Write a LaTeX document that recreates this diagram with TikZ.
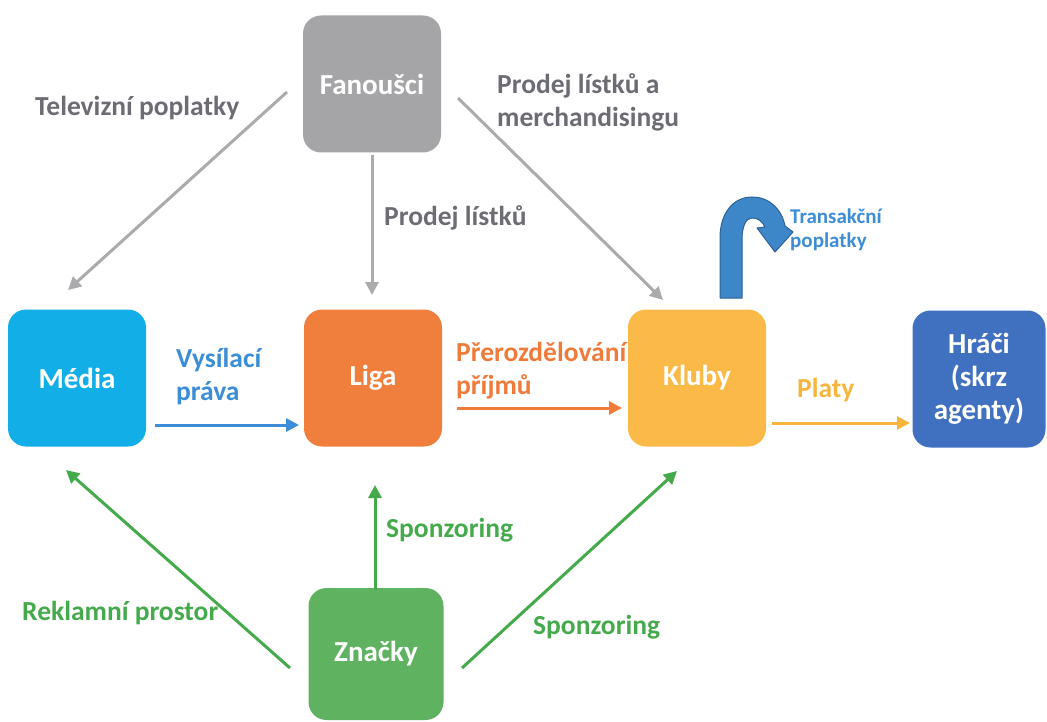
\documentclass[tikz,border=0pt]{standalone}
\usepackage{fontspec}
\setmainfont{Carlito}
\usetikzlibrary{arrows.meta}
\definecolor{cFan}{HTML}{A5A5A8}
\definecolor{cMed}{HTML}{12AEE8}
\definecolor{cLig}{HTML}{F07F3E}
\definecolor{cKlu}{HTML}{FBB947}
\definecolor{cHra}{HTML}{4070C0}
\definecolor{cZna}{HTML}{5FB360}
\definecolor{cGrayA}{HTML}{ABABAE}
\definecolor{cGrayT}{HTML}{6C6C74}
\definecolor{cBlueT}{HTML}{3A8DD6}
\definecolor{cOrT}{HTML}{EF7B3A}
\definecolor{cYeT}{HTML}{F8B53E}
\definecolor{cGrT}{HTML}{45AA4C}
\definecolor{cCurve}{HTML}{3D86C8}
\definecolor{cCurveD}{HTML}{2D6298}
\begin{document}
\begin{tikzpicture}[x=1pt,y=-1pt,
  box/.style={rounded corners=18pt, minimum width=138pt, minimum height=137pt,
    text=white, font=\bfseries\fontsize{29}{33}\selectfont, align=center, inner sep=0pt},
  conn/.style={line width=3pt, -{Triangle[length=13pt,width=13pt]}},
  lab/.style={font=\bfseries\fontsize{27.5}{33}\selectfont, align=left, inner sep=0pt},
]
\useasboundingbox (0,0) rectangle (1047,722);
% boxes
\node[box, fill=cFan] (fan) at (372,84) {Fanoušci};
\node[box, fill=cMed] (med) at (77,378) {Média};
\node[box, fill=cLig] (lig) at (373,378) {Liga};
\node[box, fill=cKlu] (klu) at (697,378) {Kluby};
\node[box, fill=cHra, minimum width=133pt] (hra) at (979,379) {Hráči\\(skrz\\agenty)};
\node[box, fill=cZna, minimum width=135pt, minimum height=132pt] (zna) at (376,654) {Značky};
% connector end coordinates
\coordinate (fm1) at (287,92);  \coordinate (fm2) at (68,290);
\coordinate (fl1) at (372,155); \coordinate (fl2) at (372,295);
\coordinate (fk1) at (458,98);  \coordinate (fk2) at (663,300);
\coordinate (ml1) at (155,425); \coordinate (ml2) at (299,425);
\coordinate (lk1) at (457,408); \coordinate (lk2) at (622,408);
\coordinate (kh1) at (772,423); \coordinate (kh2) at (910,423);
\coordinate (zm1) at (290,668); \coordinate (zm2) at (66,470);
\coordinate (zl1) at (375,590); \coordinate (zl2) at (375,485);
\coordinate (zk1) at (462,668); \coordinate (zk2) at (677,471);
% connectors
\draw[conn, cGrayA] (fm1) -- (fm2);
\draw[conn, cGrayA] (fl1) -- (fl2);
\draw[conn, cGrayA] (fk1) -- (fk2);
\draw[conn, cBlueT] (ml1) -- (ml2);
\draw[conn, cOrT] (lk1) -- (lk2);
\draw[conn, cYeT] (kh1) -- (kh2);
\draw[conn, cGrT] (zm1) -- (zm2);
\draw[conn, cGrT] (zl1) -- (zl2);
\draw[conn, cGrT] (zk1) -- (zk2);
% labels
\node[lab, text=cGrayT, anchor=west] (tTV) at (35,108) {Televizní poplatky};
\node[lab, text=cGrayT, anchor=west] (tPLM) at (497,102) {Prodej lístků a\\merchandisingu};
\node[lab, text=cGrayT, anchor=west] (tPL) at (384,218) {Prodej lístků};
\node[lab, text=cBlueT, anchor=west] (tVP) at (176,377) {Vysílací\\práva};
\node[lab, text=cOrT, anchor=west] (tPP) at (456,371) {Přerozdělování\\příjmů};
\node[lab, text=cYeT, anchor=west] (tPl) at (797,390) {Platy};
\node[lab, text=cGrT, anchor=west] (tS1) at (386,530) {Sponzoring};
\node[lab, text=cGrT, anchor=west] (tRP) at (22,613) {Reklamní prostor};
\node[lab, text=cGrT, anchor=west] (tS2) at (533,627) {Sponzoring};
\node[font=\bfseries\fontsize{21}{24}\selectfont, align=left, inner sep=0pt, text=cBlueT, anchor=west] (tTP) at (790,230) {Transakční\\poplatky};
% curved block arrow
\draw[fill=cCurve, draw=cCurveD, line width=1pt, line join=round]
  (720,298) -- (720,238)
  .. controls (720,212) and (734,197) .. (752,197)
  .. controls (770,197) and (782,210) .. (785,226)
  -- (793,232) -- (775,252) -- (757,228) -- (765,227)
  .. controls (762,221) and (758,218) .. (752,218)
  .. controls (746,218) and (742,226) .. (742,240)
  -- (742,298) -- cycle;
\end{tikzpicture}
\end{document}
